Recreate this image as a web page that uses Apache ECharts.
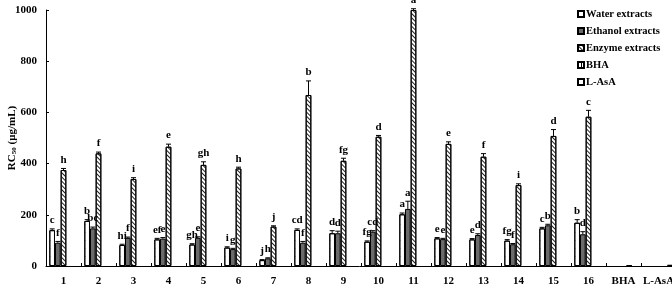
<!DOCTYPE html>
<html><head><meta charset="utf-8">
<script src="https://cdn.jsdelivr.net/npm/echarts@6/dist/echarts.min.js"></script>
<style>html,body{margin:0;padding:0;background:#fff}#c{width:672px;height:288px}</style>
</head><body><div id="c"></div>
<script>
const categories = ['1','2','3','4','5','6','7','8','9','10','11','12','13','14','15','16','BHA','L-AsA'];
const seriesNames = ['Water extracts','Ethanol extracts','Enzyme extracts','BHA','L-AsA'];
const water    = [140,176,82,104,84,72,23,141,128,95,202,108,104,99,147,169,null,null];
const waterErr = [5,5,3,4,3,3,2,4,10,3,5,3,3,4,4,12];
const waterSig = ['c','b','hi','ef','gh','i','j','cd','d','fg','a','e','e','fg','c','b'];
const ethanol    = [91,147,110,107,110,66,30,91,128,134,223,105,121,85,159,124,null,null];
const ethanolErr = [5,5,3,4,4,3,2,5,8,4,30,3,5,3,4,10];
const ethanolSig = ['f','bc','f','e','e','g','h','f','d','cd','a','e','d','f','b','d'];
const enzyme    = [375,440,340,466,395,381,154,668,411,505,1000,477,427,316,508,583,null,null];
const enzymeErr = [6,5,5,10,12,5,3,55,10,5,5,8,12,5,25,25];
const enzymeSig = ['h','f','i','e','gh','h','j','b','fg','d','a','e','f','i','d','c'];
const bha  = [null,null,null,null,null,null,null,null,null,null,null,null,null,null,null,null,3,null];
const lasa = [null,null,null,null,null,null,null,null,null,null,null,null,null,null,null,null,null,5];
const yTicks = [0,200,400,600,800,1000];

const FONT = '"Liberation Serif","Times New Roman",serif';
const CAT_GAP = 0.19;

const errData = [];
[[water,waterErr,waterSig],[ethanol,ethanolErr,ethanolSig],[enzyme,enzymeErr,enzymeSig]].forEach((arr,s)=>{
  arr[1].forEach((e,i)=>{ errData.push([i, arr[0][i], e, s, arr[2][i]]); });
});

function renderErr(params, api){
  const d = errData[params.dataIndex];
  const ci = d[0], v = d[1], e = d[2], s = d[3], sig = d[4];
  const band = api.size([1,0])[0];
  const bw = band*(1-CAT_GAP)/5;
  const base = api.coord([ci, v]);
  const top = api.coord([ci, v+e]);
  const x = base[0] + (s-2)*bw;
  const ch = [];
  if (e > 0) {
    ch.push({type:'line', shape:{x1:x,y1:base[1],x2:x,y2:top[1]}, style:{stroke:'#000',lineWidth:1}});
    ch.push({type:'line', shape:{x1:x-2.5,y1:top[1],x2:x+2.5,y2:top[1]}, style:{stroke:'#000',lineWidth:1}});
  }
  ch.push({type:'text', x:x, y:top[1]-3, style:{text:sig, align:'center', verticalAlign:'bottom', textAlign:'center', textVerticalAlign:'bottom', font:'bold 11px '+FONT, fill:'#000'}});
  return {type:'group', children:ch};
}

const border = {borderColor:'#000', borderWidth:1};
const chart = echarts.init(document.getElementById('c'), null, {renderer:'canvas'});
chart.setOption({
  backgroundColor:'#fff',
  animation:false,
  textStyle:{fontFamily:FONT},
  legend:{
    orient:'vertical', left:577, top:8, padding:0, itemGap:5, itemWidth:6, itemHeight:6, icon:'rect',
    textStyle:{fontFamily:FONT, fontWeight:'bold', fontSize:10.5, color:'#000', lineHeight:12, padding:[0,0,0,-3]},
    data:seriesNames
  },
  grid:{left:46, top:10, width:630, height:256, containLabel:false, outerBoundsMode:'none'},
  xAxis:{
    type:'category', data:categories,
    axisLine:{lineStyle:{color:'#000', width:1}},
    axisTick:{show:true, inside:true, length:3, lineStyle:{color:'#000'}},
    axisLabel:{fontFamily:FONT, fontWeight:'bold', fontSize:11, color:'#000', margin:10, interval:0}
  },
  yAxis:{
    type:'value', min:0, max:1000, interval:200,
    name:'RC{s|50} (μg/mL)', nameLocation:'middle', nameGap:28, nameRotate:90, nameMoveOverlap:false,
    nameTextStyle:{fontFamily:FONT, fontSize:11, fontWeight:'bold', color:'#000', rich:{s:{fontSize:7, fontWeight:'bold', fontFamily:FONT, color:'#000', verticalAlign:'bottom', padding:[4,0,0,0]}}},
    axisLine:{show:true, lineStyle:{color:'#000', width:1}},
    axisTick:{show:true, inside:true, length:3, lineStyle:{color:'#000'}},
    splitLine:{show:false},
    axisLabel:{fontFamily:FONT, fontWeight:'bold', fontSize:11, color:'#000', margin:9, formatter:v=>String(v)}
  },
  series:[
    {name:seriesNames[0], type:'bar', data:water, barGap:'0%', barCategoryGap:(CAT_GAP*100)+'%',
     itemStyle:Object.assign({color:'#fff', decal:{symbol:'rect', color:'#888', dashArrayX:[1,4], dashArrayY:[1,7]}}, border)},
    {name:seriesNames[1], type:'bar', data:ethanol, barGap:'0%', barCategoryGap:(CAT_GAP*100)+'%',
     itemStyle:Object.assign({color:'#6a6a6a'}, border)},
    {name:seriesNames[2], type:'bar', data:enzyme, barGap:'0%', barCategoryGap:(CAT_GAP*100)+'%',
     itemStyle:Object.assign({color:'#fff', decal:{symbol:'rect', color:'#222', dashArrayX:[1,0], dashArrayY:[1,2], rotation:Math.PI/4}}, border)},
    {name:seriesNames[3], type:'bar', data:bha, barGap:'0%', barCategoryGap:(CAT_GAP*100)+'%',
     itemStyle:Object.assign({color:'#fff', decal:{symbol:'rect', color:'#000', dashArrayX:[1,2], dashArrayY:[1,0]}}, border)},
    {name:seriesNames[4], type:'bar', data:lasa, barGap:'0%', barCategoryGap:(CAT_GAP*100)+'%',
     itemStyle:Object.assign({color:'#fff'}, border)},
    {type:'custom', data:errData, renderItem:renderErr, z:10, clip:false, silent:true, encode:{x:0, y:1}}
  ]
});
</script></body></html>
